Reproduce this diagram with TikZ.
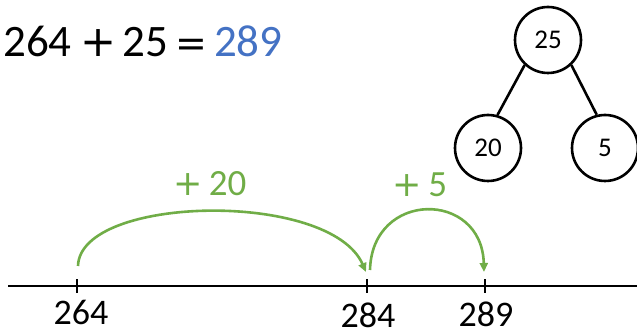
\documentclass[tikz,border=0pt]{standalone}
\usepackage{fontspec}
\setmainfont{Carlito}
\newfontfamily\symfont{DejaVu Sans}
\usetikzlibrary{arrows.meta}
\definecolor{offblue}{HTML}{4472C4}
\definecolor{offgreen}{HTML}{70AD47}
\newcommand{\bigplussym}[1]{{\symfont\fontsize{#1}{#1}\selectfont +}}
\newcommand{\bigeqsym}[1]{{\symfont\fontsize{#1}{#1}\selectfont =}}
\tikzset{
  numlabel/.style={anchor=base, inner sep=0pt, font=\fontsize{36}{40}\selectfont},
  jumplabel/.style={anchor=base, inner sep=0pt, text=offgreen, font=\fontsize{37}{42}\selectfont},
  jump/.style={draw=offgreen, line width=2.6pt, -{Triangle[length=9pt,width=8pt]}},
  bubble/.style={circle, draw, line width=2.6pt, minimum size=66pt, inner sep=0pt, font=\fontsize{27}{30}\selectfont},
  branch/.style={line width=2.6pt},
  tickmark/.style={line width=1.6pt},
}
\begin{document}
\begin{tikzpicture}[x=1pt,y=-1pt]
\useasboundingbox (0,0) rectangle (637,336);
% equation
\node[anchor=base west, inner sep=0pt, font=\fontsize{45}{50}\selectfont] (eq) at (3,57)
  {264\hspace{9pt}\bigplussym{43}\hspace{6pt}25\hspace{7pt}\bigeqsym{38}\hspace{7pt}\textcolor{offblue}{289}};
% tree
\node[bubble] (c25) at (548,40) {25};
\node[bubble] (c20) at (488,148) {20};
\node[bubble] (c5) at (605,148) {5};
\draw[branch] (c25.227) -- (c20.74);
\draw[branch] (c25.313) -- (c5.104);
% number line
\coordinate (lstart) at (8,286);
\coordinate (lend) at (637,286);
\draw[line width=1.8pt] (lstart) -- (lend);
\coordinate (t264) at (77,286);
\coordinate (t284) at (367,286);
\coordinate (t289) at (485,286);
\foreach \t in {t264,t284,t289}{
  \draw[tickmark] ([yshift=-7pt]\t) -- ([yshift=7pt]\t);
}
\node[numlabel] (l264) at (81,325) {264};
\node[numlabel] (l284) at (368,328) {284};
\node[numlabel] (l289) at (486,327) {289};
% jumps
\coordinate (a1) at (78,266);
\coordinate (a2) at (366,272);
\coordinate (b1) at (370,270);
\coordinate (b2) at (484,272);
\draw[jump] (a1) .. controls (80,195) and (330,190) .. (a2);
\draw[jump] (b1) .. controls (372,190) and (482,190) .. (b2);
\node[jumplabel] (j20) at (210,196) {\bigplussym{35}\hspace{6pt}20};
\node[jumplabel] (j5) at (420,197) {\bigplussym{35}\hspace{6pt}5};
\end{tikzpicture}
\end{document}
